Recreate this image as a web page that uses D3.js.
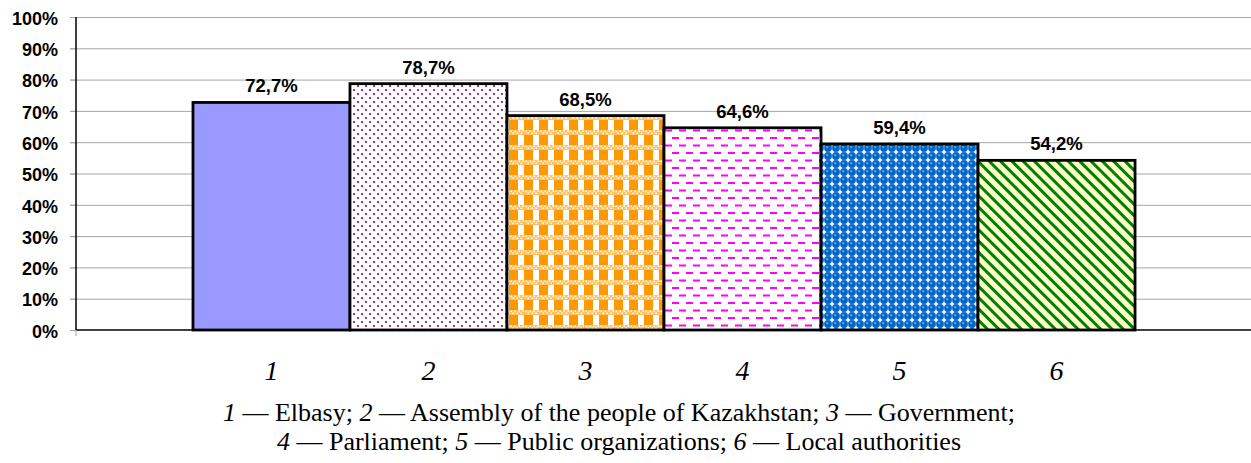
<!DOCTYPE html>
<html>
<head>
<meta charset="utf-8">
<script src="https://d3js.org/d3.v7.min.js"></script>
<style>
  body { margin: 0; background: white; }
  svg { display: block; }
</style>
</head>
<body>
<div id="chart"></div>
<script>
// data
var categories = ["1", "2", "3", "4", "5", "6"];
var values = [72.7, 78.7, 68.5, 64.6, 59.4, 54.2];
var valueLabels = ["72,7%", "78,7%", "68,5%", "64,6%", "59,4%", "54,2%"];
var yTicks = [0, 10, 20, 30, 40, 50, 60, 70, 80, 90, 100];
var captionLine1 = [["1", " — Elbasy; "], ["2", " — Assembly of the people of Kazakhstan; "], ["3", " — Government;"]];
var captionLine2 = [["4", " — Parliament; "], ["5", " — Public organizations; "], ["6", " — Local authorities"]];

var W = 1251, H = 463;
var plotLeft = 76, plotRight = 1252, plotTop = 17, plotBottom = 330;
var serif = "'Liberation Serif', 'Times New Roman', serif";
var sans = "'Liberation Sans', Arial, sans-serif";

var svg = d3.select("#chart").append("svg")
  .attr("width", W).attr("height", H);

var defs = svg.append("defs");

// pattern 2: purple dots
var p2 = defs.append("pattern").attr("id", "pat2").attr("patternUnits", "userSpaceOnUse")
  .attr("width", 8).attr("height", 8);
p2.append("rect").attr("width", 8).attr("height", 8).attr("fill", "#fff");
p2.append("rect").attr("x", 1).attr("y", 1).attr("width", 2).attr("height", 2).attr("fill", "#993399");
p2.append("rect").attr("x", 5).attr("y", 5).attr("width", 2).attr("height", 2).attr("fill", "#993399");

// pattern 3: orange plaid
var p3 = defs.append("pattern").attr("id", "pat3").attr("patternUnits", "userSpaceOnUse")
  .attr("width", 15).attr("height", 15);
p3.append("rect").attr("width", 15).attr("height", 15).attr("fill", "#ff9900");
p3.append("rect").attr("x", 8).attr("y", 0).attr("width", 6).attr("height", 10).attr("fill", "#fff");
p3.append("rect").attr("x", 0).attr("y", 10).attr("width", 15).attr("height", 5).attr("fill", "#ffc266");
for (var i = 0; i < 7; i++) {
  p3.append("rect").attr("x", i * 2 + 0.5).attr("y", 10.5 + (i % 2) * 2).attr("width", 1.5).attr("height", 1.5).attr("fill", "#fff");
}

// pattern 4: magenta dashes
var p4 = defs.append("pattern").attr("id", "pat4").attr("patternUnits", "userSpaceOnUse")
  .attr("width", 14).attr("height", 15);
p4.append("rect").attr("width", 14).attr("height", 15).attr("fill", "#fff");
p4.append("rect").attr("x", 0).attr("y", 2).attr("width", 7).attr("height", 2).attr("fill", "#ff00ff");
p4.append("rect").attr("x", 7).attr("y", 9.5).attr("width", 7).attr("height", 2).attr("fill", "#ff00ff");

// pattern 5: blue spheres
var p5 = defs.append("pattern").attr("id", "pat5").attr("patternUnits", "userSpaceOnUse")
  .attr("width", 8).attr("height", 8);
p5.append("rect").attr("width", 8).attr("height", 8).attr("fill", "#fff");
p5.append("circle").attr("cx", 4).attr("cy", 4).attr("r", 3.9).attr("fill", "#0066cc");
p5.append("circle").attr("cx", 3.2).attr("cy", 3).attr("r", 1.3).attr("fill", "#5599e0");

// pattern 6: green diagonal stripes on light yellow
var p6 = defs.append("pattern").attr("id", "pat6").attr("patternUnits", "userSpaceOnUse")
  .attr("width", 8).attr("height", 8).attr("patternTransform", "rotate(-45)");
p6.append("rect").attr("width", 8).attr("height", 8).attr("fill", "#ffffcc");
p6.append("rect").attr("x", 0).attr("width", 3).attr("height", 8).attr("fill", "#008000");

var fills = ["#9999ff", "url(#pat2)", "url(#pat3)", "url(#pat4)", "url(#pat5)", "url(#pat6)"];

var x = d3.scaleBand().domain(categories).range([plotLeft, plotRight])
  .paddingInner(0).paddingOuter(0.745);
var y = d3.scaleLinear().domain([0, 100]).range([plotBottom, plotTop]);

// gridlines
svg.append("g").selectAll("line").data(yTicks.filter(function(d) { return d > 0; }))
  .enter().append("line")
  .attr("x1", plotLeft - 6).attr("x2", W)
  .attr("y1", function(d) { return y(d) + 0.5; }).attr("y2", function(d) { return y(d) + 0.5; })
  .attr("stroke", "#a6a6a6").attr("stroke-width", 1);

// y axis
var yAxis = svg.append("g").attr("transform", "translate(" + plotLeft + ",0)")
  .call(d3.axisLeft(y).tickValues(yTicks).tickSize(6).tickFormat(function(d) { return d + "%"; }));
yAxis.select(".domain").remove();
yAxis.selectAll(".tick line").attr("stroke", "#a6a6a6");
yAxis.selectAll(".tick text")
  .attr("x", -18).attr("dy", "0.4em")
  .style("font-family", sans)
  .style("font-weight", "bold").style("font-size", "18px").attr("fill", "#000");

// bars
svg.append("g").selectAll("rect").data(values).enter().append("rect")
  .attr("x", function(d, i) { return x(categories[i]); })
  .attr("y", function(d) { return y(d); })
  .attr("width", x.bandwidth())
  .attr("height", function(d) { return plotBottom - y(d); })
  .attr("fill", function(d, i) { return fills[i]; })
  .attr("stroke", "#000").attr("stroke-width", 2.8);

// axis lines
svg.append("line").attr("x1", plotLeft).attr("x2", plotLeft).attr("y1", plotTop).attr("y2", plotBottom)
  .attr("stroke", "#000").attr("stroke-width", 1.5);
svg.append("line").attr("x1", plotLeft).attr("x2", W).attr("y1", plotBottom).attr("y2", plotBottom)
  .attr("stroke", "#000").attr("stroke-width", 1.5);
svg.append("line").attr("x1", plotLeft).attr("x2", plotLeft).attr("y1", plotBottom).attr("y2", plotBottom + 6)
  .attr("stroke", "#a6a6a6").attr("stroke-width", 1);

// value labels
svg.append("g").selectAll("text").data(values).enter().append("text")
  .attr("x", function(d, i) { return x(categories[i]) + x.bandwidth() / 2; })
  .attr("y", function(d) { return y(d) - 10; })
  .attr("text-anchor", "middle")
  .style("font-family", sans)
  .style("font-weight", "bold").style("font-size", "18.5px")
  .text(function(d, i) { return valueLabels[i]; });

// category labels
svg.append("g").selectAll("text").data(categories).enter().append("text")
  .attr("x", function(d) { return x(d) + x.bandwidth() / 2; })
  .attr("y", 380)
  .attr("text-anchor", "middle")
  .style("font-family", serif)
  .style("font-style", "italic").style("font-size", "28px")
  .text(function(d) { return d; });

// caption
function caption(parts, yPos) {
  var t = svg.append("text").attr("x", 619).attr("y", yPos).attr("text-anchor", "middle")
    .style("font-family", serif)
    .style("font-size", "26px");
  parts.forEach(function(p) {
    t.append("tspan").style("font-style", "italic").text(p[0]);
    t.append("tspan").text(p[1]);
  });
}
caption(captionLine1, 421);
caption(captionLine2, 450);
</script>
</body>
</html>
